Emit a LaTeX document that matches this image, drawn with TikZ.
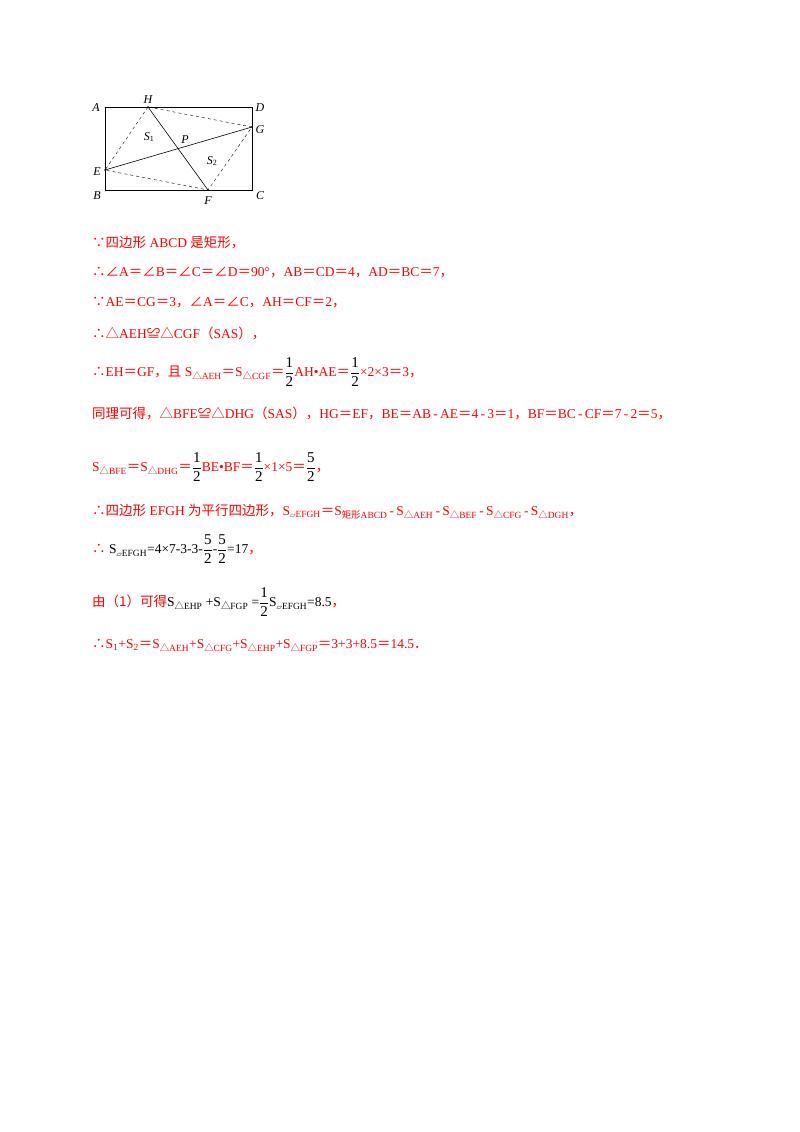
\documentclass[tikz,border=0pt]{standalone}
\usepackage{fontspec}
\setmainfont{Liberation Serif}
\newfontfamily\cjk{Noto Sans CJK SC}
\newfontfamily\symf{DejaVu Sans}
\usetikzlibrary{calc,intersections}
\newcommand{\C}[1]{{\cjk #1}}
\newcommand{\Eq}{{\cjk ＝}}
\newcommand{\Cm}{{\cjk ，}}
\newcommand{\Mi}{\,-\,}
\newcommand{\tri}{{\cjk △}}
\newcommand{\pg}{{\symf\scriptsize ▱}}
\newcommand{\fr}[2]{{\fontsize{15}{16}\selectfont$\displaystyle\frac{\textrm{#1}}{\textrm{#2}}$}}
\begin{document}
\begin{tikzpicture}[x=1pt,y=-1pt,
 ln/.style={anchor=west,text=red,font=\fontsize{13.5}{15}\selectfont,inner sep=0},
 lab/.style={font=\itshape\fontsize{12}{13}\selectfont,inner sep=1pt},
 dsh/.style={dashed,thin}]
\useasboundingbox (0,0) rectangle (800,1132);
\coordinate (A) at (105,107); \coordinate (D) at (252,107);
\coordinate (B) at (105,190); \coordinate (C) at (252,190);
\coordinate (H) at (148,107); \coordinate (G) at (252,127);
\coordinate (E) at (105,170); \coordinate (F) at (208,190);
\draw[semithick] (A) rectangle (C);
\draw[semithick,name path=hf] (H) -- (F);
\draw[semithick,name path=eg] (E) -- (G);
\path[name intersections={of=hf and eg,by=P}];
\draw[dsh] (H) -- (E) -- (F) -- (G) -- (H);
\fill (H) circle (0.9); \fill (E) circle (0.9); \fill (F) circle (0.9); \fill (G) circle (0.9);
\node[lab] (lA) at (96,108) {A}; \node[lab] (lH) at (148,100) {H};
\node[lab] (lD) at (260,108) {D}; \node[lab] (lG) at (260,130) {G};
\node[lab] (lE) at (97,172) {E}; \node[lab] (lB) at (97,196) {B};
\node[lab] (lF) at (208,201) {F}; \node[lab] (lC) at (260,196) {C};
\node[lab] (lP) at (185,140) {P};
\node[lab] (s1) at (149,137) {S\textsubscript{\upshape 1}};
\node[lab] (s2) at (212,161) {S\textsubscript{\upshape 2}};

\node[ln] (t1) at (92,243) {\C{∵四边形} ABCD \C{是矩形，}};
\node[ln] (t2) at (92,273) {\C{∴∠}A\Eq\C{∠}B\Eq\C{∠}C\Eq\C{∠}D\Eq 90°\Cm AB\Eq CD\Eq 4\Cm AD\Eq BC\Eq 7\Cm};
\node[ln] (t3) at (92,303) {\C{∵}AE\Eq CG\Eq 3\Cm\C{∠}A\Eq\C{∠}C\Cm AH\Eq CF\Eq 2\Cm};
\node[ln] (t4) at (92,333) {\C{∴△}AEH\C{≌△}CGF\C{（}SAS\C{）}\Cm};
\node[ln] (t5) at (92,372) {\C{∴}EH\Eq GF\Cm\C{且} S\textsubscript{\tri AEH}\Eq S\textsubscript{\tri CGF}\Eq{\color{black}\fr12}AH•AE\Eq{\color{black}\fr12}×2×3\Eq 3\Cm};
\node[ln] (t6) at (92,413) {\C{同理可得，△}BFE\C{≌△}DHG\C{（}SAS\C{）}\Cm HG\Eq EF\Cm BE\Eq AB\Mi AE\Eq 4\Mi 3\Eq 1\Cm BF\Eq BC\Mi CF\Eq 7\Mi 2\Eq 5\Cm};
\node[ln] (t7) at (92,467) {S\textsubscript{\tri BFE}\Eq S\textsubscript{\tri DHG}\Eq{\color{black}\fr12}BE•BF\Eq{\color{black}\fr12}×1×5\Eq{\color{black}\fr52}\Cm};
\node[ln] (t8) at (92,512) {\C{∴四边形} EFGH \C{为平行四边形，}S\textsubscript{\pg EFGH}\Eq S\textsubscript{\C{矩形}ABCD}\Mi S\textsubscript{\tri AEH}\Mi S\textsubscript{\tri BEF}\Mi S\textsubscript{\tri CFG}\Mi S\textsubscript{\tri DGH}\Cm};
\node[ln] (t9) at (92,549) {\C{∴} {\color{black}S\textsubscript{\pg EFGH}=4×7-3-3-\fr52-\fr52=17}\Cm};
\node[ln] (t10) at (92,602) {\C{由（1）可得}{\color{black}S\textsubscript{\tri EHP} +S\textsubscript{\tri FGP} =\fr12S\textsubscript{\pg EFGH}=8.5}\Cm};
\node[ln] (t11) at (92,645) {\C{∴}S\textsubscript{1}+S\textsubscript{2}\Eq S\textsubscript{\tri AEH}+S\textsubscript{\tri CFG}+S\textsubscript{\tri EHP}+S\textsubscript{\tri FGP}\Eq 3+3+8.5\Eq 14.5\C{．}};
\end{tikzpicture}
\end{document}
